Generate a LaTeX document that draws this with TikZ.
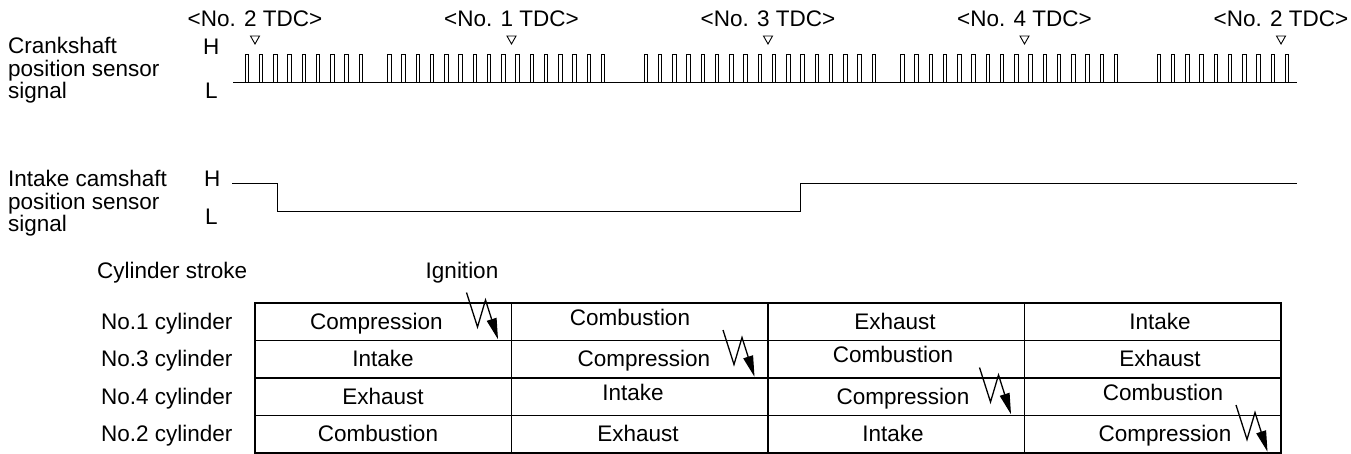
\documentclass[tikz,border=0pt]{standalone}
\usepackage{fontspec}
\setmainfont{Liberation Sans}
\usetikzlibrary{arrows.meta}
\begin{document}
\begin{tikzpicture}[x=1pt,y=-1pt,
  txt/.style={font=\fontsize{22.5}{26}\selectfont, inner sep=0pt},
  lft/.style={txt, anchor=base west},
  ctr/.style={txt, anchor=base},
  sig/.style={line width=1pt, line join=miter},
  grid/.style={line width=1.2pt},
  tdcmark/.style={line width=0.9pt},
  ignarrow/.style={line width=1.3pt, -{Triangle[length=21pt,width=10pt]}}]
\useasboundingbox (0,0) rectangle (1351,454);

% ---- crankshaft signal ----
\node[lft] (c1) at (8,54) {Crankshaft};
\node[lft] (c2) at (8,77) {position sensor};
\node[lft] (c3) at (8,99) {signal};
\node[lft] (cH) at (203,55) {H};
\node[lft] (cL) at (205,99) {L};
\draw[sig] (233,83) -- (1297,83);
\foreach \a/\b in {0/8,10/25,28/44,46/61,64/73}{
  \foreach \k in {\a,...,\b}{
    \pgfmathsetmacro{\xx}{245+14.25*\k}
    \draw[sig] (\xx,83) -- (\xx,55) -- (\xx+3.5,55) -- (\xx+3.5,83);
  }
}
\foreach \i/\n in {0/2,1/1,2/3,3/4,4/2}{
  \pgfmathsetmacro{\tx}{255+256.5*\i}
  \node[ctr] (tdc\i) at (\tx,27) {<No. \n\ TDC>};
  \draw[tdcmark] (\tx-4.5,36) -- (\tx+4.5,36) -- (\tx,44) -- cycle;
}

% ---- intake camshaft signal ----
\node[lft] (i1) at (8,187) {Intake camshaft};
\node[lft] (i2) at (8,210) {position sensor};
\node[lft] (i3) at (8,232) {signal};
\node[lft] (iH) at (204,187) {H};
\node[lft] (iL) at (205,225) {L};
\draw[sig] (232,184) -- (277,184) -- (277,212) -- (800,212) -- (800,184) -- (1297,184);

% ---- cylinder stroke table ----
\node[lft] (cs) at (97,278) {Cylinder stroke};
\node[ctr] (ign) at (462,278) {Ignition};
\draw[grid] (255,303) rectangle (1281,453);
\foreach \yy in {340.5,378,415.5} \draw[grid] (255,\yy) -- (1281,\yy);
\foreach \xx in {511.5,768,1024.5} \draw[grid] (\xx,303) -- (\xx,453);

\node[lft] (r1) at (101,329) {No.1 cylinder};
\node[lft] (r3) at (101,366.5) {No.3 cylinder};
\node[lft] (r4) at (101,404) {No.4 cylinder};
\node[lft] (r2) at (101,441.5) {No.2 cylinder};

% row No.1
\node[ctr] (a1) at (376.5,329) {Compression};
\node[ctr] (a2) at (630,325) {Combustion};
\node[ctr] (a3) at (895,329) {Exhaust};
\node[ctr] (a4) at (1160,329) {Intake};
% row No.3
\node[ctr] (b1) at (383,366.5) {Intake};
\node[ctr] (b2) at (644,366.5) {Compression};
\node[ctr] (b3) at (893,362.5) {Combustion};
\node[ctr] (b4) at (1160,366.5) {Exhaust};
% row No.4
\node[ctr] (d1) at (383,404) {Exhaust};
\node[ctr] (d2) at (633,400) {Intake};
\node[ctr] (d3) at (903,404) {Compression};
\node[ctr] (d4) at (1163,400) {Combustion};
% row No.2
\node[ctr] (e1) at (378,441.5) {Combustion};
\node[ctr] (e2) at (638,441.5) {Exhaust};
\node[ctr] (e3) at (893,441.5) {Intake};
\node[ctr] (e4) at (1165,441.5) {Compression};

% ignition symbols
\foreach \cx/\cy in {511.5/340.5,768/378,1024.5/415.5,1281/453}{
  \draw[ignarrow] (\cx-45,\cy-48) -- (\cx-34,\cy-13.5) -- (\cx-26,\cy-40.5) -- (\cx-13.5,\cy-1.2);
}
\end{tikzpicture}
\end{document}
